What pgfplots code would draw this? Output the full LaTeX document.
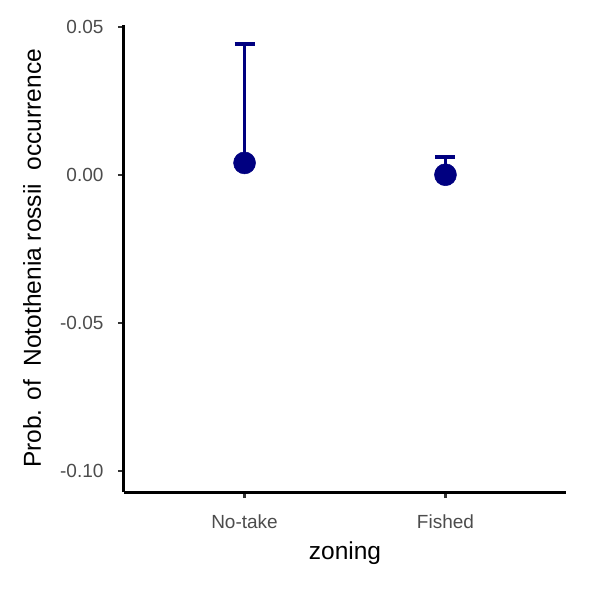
\documentclass[border=0pt]{standalone}
\usepackage{pgfplots}
\pgfplotsset{compat=1.18}
\usepackage{fontspec}
\setmainfont{Liberation Sans}
\definecolor{navyc}{RGB}{0,0,128}
\begin{document}
\begin{tikzpicture}
\path[use as bounding box] (-124bp,-98bp) rectangle (466bp,492bp);
\begin{axis}[
 at={(0,0)}, anchor=south west,
 scale only axis, width=442bp, height=467bp,
 xmin=0.4, xmax=2.6, ymin=-0.1071, ymax=0.0507,
 axis x line*=bottom, axis y line*=left,
 axis line style={-, line width=3bp, black},
 xtick={1,2}, xticklabels={No-take,Fished},
 ytick={-0.1,-0.05,0,0.05}, yticklabels={-0.10,-0.05,0.00,0.05},
 tick align=outside, major tick length=6bp,
 tick style={line width=2.6bp, color=black!80},
 ticklabel style={font=\fontsize{19bp}{23bp}\selectfont, text=black!70},
 xticklabel style={yshift=-13bp},
 yticklabel style={xshift=-11bp},
 xlabel={zoning}, ylabel={Prob. of \ Notothenia rossii \ occurrence},
 label style={font=\fontsize{24.5bp}{29bp}\selectfont},
 xlabel style={at={(axis description cs:0.5,0)}, anchor=center, yshift=-61bp},
 ylabel style={at={(axis description cs:0,0.5)}, anchor=center, yshift=92bp},
 clip=false,
]
\addplot[only marks, mark=none, forget plot,
  error bars/.cd, y dir=plus, y explicit,
  error mark=|, error bar style={line width=3.2bp, navyc},
  error mark options={line width=3.6bp, navyc, mark size=10bp}]
  table[x=x, y=y, y error plus=ep] {
  x y ep
  1 0.0041 0.0402
  2 0.0001 0.0060
  };
\addplot[only marks, mark=*, mark size=11bp, navyc, mark options={fill=navyc, draw=navyc, line width=0.5bp, solid}]
  table[x=x, y=y] {
  x y
  1 0.0041
  2 0.0001
  };
\end{axis}
\end{tikzpicture}
\end{document}
